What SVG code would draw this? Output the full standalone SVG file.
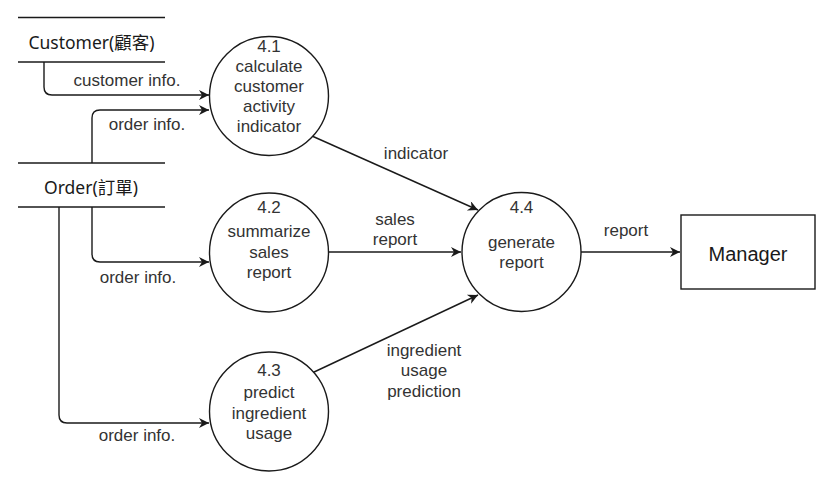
<svg xmlns="http://www.w3.org/2000/svg" width="822" height="483" viewBox="0 0 822 483">
<style>
.bg{fill:#ffffff}
.ln{fill:none;stroke:#1a1a1a;stroke-width:1.4}
.nd{fill:#ffffff;stroke:#1a1a1a;stroke-width:1.4}
.t{font-family:"Liberation Sans",Arial,sans-serif;font-size:17px;fill:#333333;text-anchor:middle}
.s{font-family:"Noto Sans","Noto Sans CJK TC",sans-serif;font-size:17.5px;fill:#1a1a1a;text-anchor:middle}
.m{font-family:"Liberation Sans",Arial,sans-serif;font-size:20px;fill:#1a1a1a;text-anchor:middle}
</style>
<defs>
<marker id="arr" viewBox="0 0 10 10" refX="10" refY="5" markerWidth="12" markerHeight="10" markerUnits="userSpaceOnUse" orient="auto">
<path d="M0,0 L10,5 L0,10 L3,5 Z" fill="#1a1a1a"/>
</marker>
</defs>
<rect class="bg" x="0" y="0" width="822" height="483"/>

<g id="store-customer">
<line class="ln" x1="18" y1="17.5" x2="165" y2="17.5"/>
<line class="ln" x1="18" y1="62" x2="165" y2="62"/>
<text class="s" x="91.5" y="49">Customer(顧客)</text>
</g>

<g id="store-order">
<line class="ln" x1="18" y1="163" x2="165" y2="163"/>
<line class="ln" x1="18" y1="207" x2="165" y2="207"/>
<text class="s" x="91" y="194">Order(訂單)</text>
</g>

<g id="connectors">
<path class="ln" d="M44,62 V87 Q44,95 52,95 H209" marker-end="url(#arr)"/>
<path class="ln" d="M92,163 V118 Q92,110 100,110 H209" marker-end="url(#arr)"/>
<path class="ln" d="M92,207 V254 Q92,262 100,262 H209" marker-end="url(#arr)"/>
<path class="ln" d="M59,207 V415 Q59,423 67,423 H209" marker-end="url(#arr)"/>
<path class="ln" d="M312,136 L478,210" marker-end="url(#arr)"/>
<path class="ln" d="M329,252 L461,252" marker-end="url(#arr)"/>
<path class="ln" d="M312,373 L478,295" marker-end="url(#arr)"/>
<path class="ln" d="M581,252 L680,252" marker-end="url(#arr)"/>
<text class="t" x="127" y="86">customer info.</text>
<text class="t" x="147" y="130">order info.</text>
<text class="t" x="138" y="283">order info.</text>
<text class="t" x="137" y="441">order info.</text>
<text class="t" x="416" y="159">indicator</text>
<text class="t" x="395" y="225">sales</text>
<text class="t" x="395" y="245">report</text>
<text class="t" x="424" y="356">ingredient</text>
<text class="t" x="424" y="376">usage</text>
<text class="t" x="424" y="397">prediction</text>
<text class="t" x="626" y="236">report</text>
</g>

<g id="p41">
<circle class="nd" cx="269" cy="96" r="59.5"/>
<text class="t" x="269" y="52">4.1</text>
<text class="t" x="269" y="72">calculate</text>
<text class="t" x="269" y="92">customer</text>
<text class="t" x="269" y="112">activity</text>
<text class="t" x="269" y="132">indicator</text>
</g>

<g id="p42">
<circle class="nd" cx="269" cy="252.5" r="59.5"/>
<text class="t" x="269" y="213">4.2</text>
<text class="t" x="269" y="237">summarize</text>
<text class="t" x="269" y="258">sales</text>
<text class="t" x="269" y="278">report</text>
</g>

<g id="p43">
<circle class="nd" cx="269" cy="411.5" r="59.5"/>
<text class="t" x="269" y="376">4.3</text>
<text class="t" x="269" y="398">predict</text>
<text class="t" x="269" y="419">ingredient</text>
<text class="t" x="269" y="439">usage</text>
</g>

<g id="p44">
<circle class="nd" cx="521.5" cy="252" r="59.5"/>
<text class="t" x="521.5" y="213">4.4</text>
<text class="t" x="521.5" y="248">generate</text>
<text class="t" x="521.5" y="268">report</text>
</g>

<g id="manager">
<rect class="nd" x="681" y="215" width="134" height="74"/>
<text class="m" x="748" y="261">Manager</text>
</g>
</svg>
